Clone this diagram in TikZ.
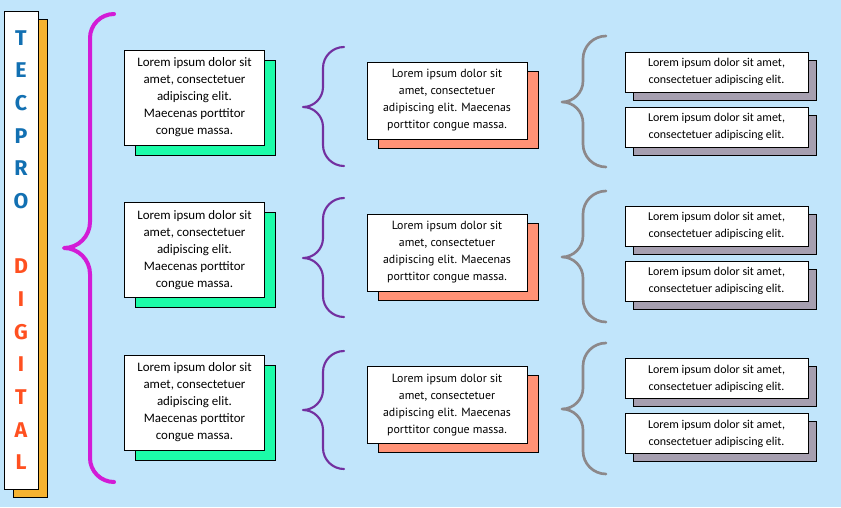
\documentclass[tikz,border=0pt]{standalone}
\usepackage{fontspec}
\setmainfont{Carlito}
\newfontfamily\midfont{PT Sans}
\newfontfamily\titlefont{Fira Sans}
\usepackage{tikz}
\usetikzlibrary{shadows}

\definecolor{bgblue}{RGB}{193,229,251}
\definecolor{tblue}{RGB}{18,112,178}
\definecolor{torange}{RGB}{255,80,32}
\definecolor{shorange}{RGB}{246,179,49}
\definecolor{shgreen}{RGB}{28,252,168}
\definecolor{shsalmon}{RGB}{255,146,118}
\definecolor{shgrey}{RGB}{166,159,176}
\definecolor{brmagenta}{RGB}{210,28,214}
\definecolor{brpurple}{RGB}{114,48,160}
\definecolor{brgrey}{RGB}{140,136,138}

\newcommand{\curlybrace}[7]{%
	\draw[#1] (#2,#5) .. controls ({#3+0.45*(#2-#3)},#5) and (#3,{#5+0.45*(#2-#3)}) .. ({#3},{#5+#2-#3})
		-- ({#3},{#6-#3+#4}) .. controls (#3,{#6-0.45*(#3-#4)}) and ({#3-0.45*(#3-#4)},#6) .. (#4,#6)
		.. controls ({#3-0.45*(#3-#4)},#6) and (#3,{#6+0.45*(#3-#4)}) .. ({#3},{#6+#3-#4})
		-- ({#3},{#7-#2+#3}) .. controls (#3,{#7-0.45*(#2-#3)}) and ({#3+0.45*(#2-#3)},#7) .. (#2,#7);}

\tikzset{
	box/.style={draw, fill=white, line width=0.75pt, align=center, inner sep=0pt},
	brace/.style={line cap=round, line join=round},
	titlebar/.style={box, minimum width=25.5pt, minimum height=358.5pt,
		font=\titlefont\bfseries\fontsize{16}{24.5}\selectfont,
		general shadow={fill=shorange, draw=black, line width=0.75pt, shadow xshift=6.75pt, shadow yshift=-6pt}},
	leftbox/.style={box, minimum width=105pt, minimum height=71.25pt,
		font=\fontsize{9.7}{12.75}\selectfont,
		general shadow={fill=shgreen, draw=black, line width=0.75pt, shadow xshift=8.25pt, shadow yshift=-7.5pt}},
	midbox/.style={box, minimum width=120pt, minimum height=57.75pt,
		font=\midfont\fontsize{8.9}{12.75}\selectfont,
		general shadow={fill=shsalmon, draw=black, line width=0.75pt, shadow xshift=8.25pt, shadow yshift=-6.75pt}},
	rightbox/.style={box, minimum width=137.25pt, minimum height=30pt,
		font=\fontsize{9}{12.75}\selectfont,
		general shadow={fill=shgrey, draw=black, line width=0.75pt, shadow xshift=6pt, shadow yshift=-6pt}},
}

\begin{document}
\begin{tikzpicture}[x=0.75pt, y=-0.75pt]
	\fill[bgblue] (0,0) rectangle (841,507);

	\node[titlebar, text=tblue] (title) at (21,250) {T\\E\\C\\P\\R\\O\\[24.5pt]\textcolor{torange}{D}\\\textcolor{torange}{I}\\\textcolor{torange}{G}\\\textcolor{torange}{I}\\\textcolor{torange}{T}\\\textcolor{torange}{A}\\\textcolor{torange}{L}};

	\curlybrace{brace, brmagenta, line width=3pt}{114}{90}{64}{14}{248}{482}

	\node[leftbox] (l1) at (194.5,97.5) {Lorem ipsum dolor sit\\amet, consectetuer\\adipiscing elit.\\Maecenas porttitor\\congue massa.};
	\node[leftbox] (l2) at (194.5,250) {Lorem ipsum dolor sit\\amet, consectetuer\\adipiscing elit.\\Maecenas porttitor\\congue massa.};
	\node[leftbox] (l3) at (194.5,402.5) {Lorem ipsum dolor sit\\amet, consectetuer\\adipiscing elit.\\Maecenas porttitor\\congue massa.};

	\curlybrace{brace, brpurple, line width=1.6pt}{344}{323}{303}{47}{107}{166}
	\curlybrace{brace, brpurple, line width=1.6pt}{344}{323}{303}{198}{258}{317}
	\curlybrace{brace, brpurple, line width=1.6pt}{344}{323}{303}{351}{410}{469}

	\node[midbox] (m1) at (447,100.5) {Lorem ipsum dolor sit\\amet, consectetuer\\adipiscing elit. Maecenas\\porttitor congue massa.};
	\node[midbox] (m2) at (447,252.5) {Lorem ipsum dolor sit\\amet, consectetuer\\adipiscing elit. Maecenas\\porttitor congue massa.};
	\node[midbox] (m3) at (447,405) {Lorem ipsum dolor sit\\amet, consectetuer\\adipiscing elit. Maecenas\\porttitor congue massa.};

	\curlybrace{brace, brgrey, line width=2pt}{606}{583}{562}{36}{102}{167}
	\curlybrace{brace, brgrey, line width=2pt}{606}{583}{562}{191}{257}{322}
	\curlybrace{brace, brgrey, line width=2pt}{606}{583}{562}{343}{409}{474}

	\node[rightbox] (r1a) at (716.5,72) {Lorem ipsum dolor sit amet,\\consectetuer adipiscing elit.};
	\node[rightbox] (r1b) at (716.5,127) {Lorem ipsum dolor sit amet,\\consectetuer adipiscing elit.};
	\node[rightbox] (r2a) at (716.5,226) {Lorem ipsum dolor sit amet,\\consectetuer adipiscing elit.};
	\node[rightbox] (r2b) at (716.5,281) {Lorem ipsum dolor sit amet,\\consectetuer adipiscing elit.};
	\node[rightbox] (r3a) at (716.5,378.5) {Lorem ipsum dolor sit amet,\\consectetuer adipiscing elit.};
	\node[rightbox] (r3b) at (716.5,433.5) {Lorem ipsum dolor sit amet,\\consectetuer adipiscing elit.};
\end{tikzpicture}
\end{document}
